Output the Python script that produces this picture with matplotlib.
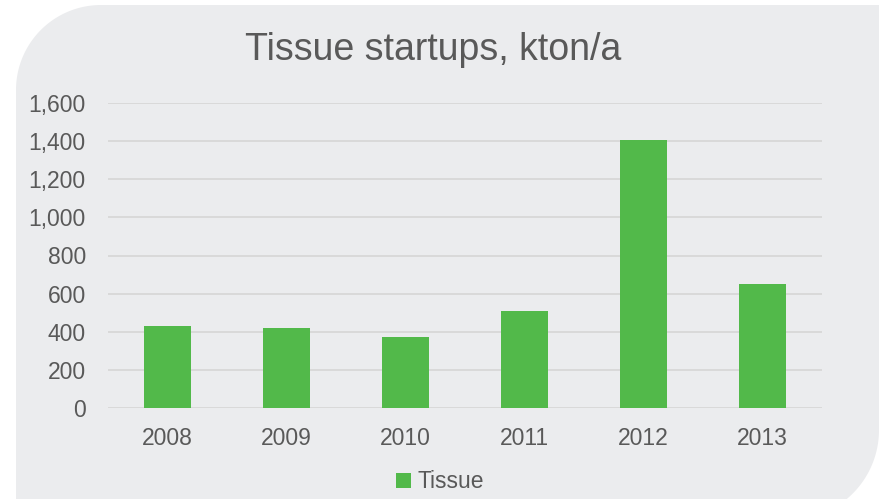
import numpy as np
import matplotlib.pyplot as plt
from matplotlib.path import Path
from matplotlib.patches import PathPatch
from matplotlib.transforms import IdentityTransform

years = ["2008", "2009", "2010", "2011", "2012", "2013"]
tissue = [430, 421, 373, 509, 1405, 651]
yticks = [0, 200, 400, 600, 800, 1000, 1200, 1400, 1600]

W, H = 881, 499
TEXT = "#595959"
GREEN = "#52B94A"
plt.rcParams['font.family'] = ['Liberation Sans', 'DejaVu Sans']

fig = plt.figure(figsize=(W / 100, H / 100), dpi=100)
fig.patch.set_facecolor("white")

# grey panel with two rounded corners (pixel coords, y from top)
def arc(cx, cy, r, a0, a1, n=40):
    t = np.radians(np.linspace(a0, a1, n))
    return list(zip(cx + r * np.cos(t), cy - r * np.sin(t)))

pts = [(101, 5), (879, 5), (879, 430)]
pts += arc(789, 430, 90, 0, -90)
pts += [(16, 520), (16, 90)]
pts += arc(101, 90, 85, 180, 90)
pts = [(x, H - y) for x, y in pts]
panel = PathPatch(Path(pts + [pts[0]]), facecolor="#EBECEE", edgecolor="none",
                  transform=IdentityTransform(), zorder=-5)
fig.patches.append(panel)

ax = fig.add_axes([108 / W, (H - 408) / H, (822 - 108) / W, (408 - 103) / H])
ax.set_facecolor("none")
ax.set_zorder(1)

x = np.arange(len(years))
ax.bar(x, tissue, width=0.40, color=GREEN, label="Tissue", zorder=3)

ax.set_xlim(-0.5, len(years) - 0.5)
ax.set_ylim(0, 1600)
ax.set_yticks(yticks)
ax.set_yticklabels([f"{v:,}" for v in yticks])
ax.set_xticks(x)
ax.set_xticklabels(years)
ax.tick_params(axis="both", length=0, labelsize=16.5, labelcolor=TEXT)
ax.tick_params(axis="y", pad=16)
ax.tick_params(axis="x", pad=14)
ax.grid(axis="y", color="#D9D9D9", linewidth=1.4, zorder=0)
ax.set_axisbelow(True)
for s in ax.spines.values():
    s.set_visible(False)

fig.text(433 / W, 1 - 50 / H, "Tissue startups, kton/a", ha="center", va="center",
         fontsize=27, color=TEXT)

fig.legend(loc="center", bbox_to_anchor=(440 / W, 1 - 482 / H), frameon=False,
           fontsize=16.5, labelcolor=TEXT, handlelength=0.65, handleheight=0.65,
           handletextpad=0.3)

fig.savefig("out.png", dpi=100, facecolor=fig.get_facecolor())
